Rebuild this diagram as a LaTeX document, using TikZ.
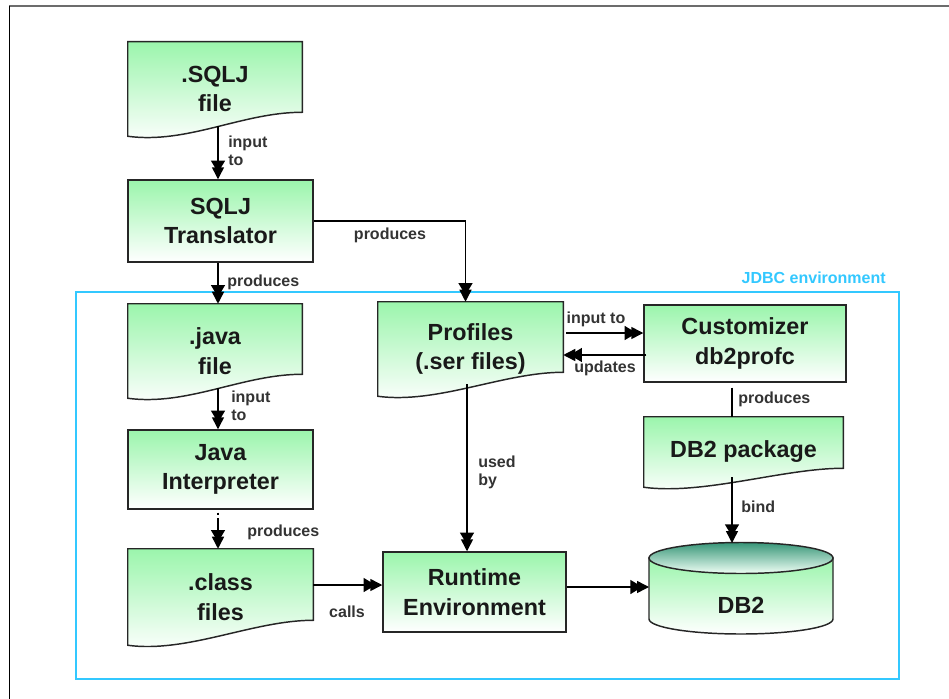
\documentclass[tikz,border=0pt]{standalone}
\usepackage{fontspec}
\setmainfont{Liberation Sans}
\usetikzlibrary{arrows.meta,calc,backgrounds}
\definecolor{boxgreen}{RGB}{155,245,172}
\definecolor{jdbc}{RGB}{51,200,255}
\definecolor{dbtop}{RGB}{55,150,120}
\definecolor{dbbot}{RGB}{240,255,245}
\tikzset{
  x=0.75pt, y=-0.75pt,
  wh/.style 2 args={minimum width=#1*0.75pt, minimum height=#2*0.75pt},
  boxtext/.style={font=\bfseries\fontsize{17.5}{22}\selectfont, text=black!90, align=center, inner sep=0pt},
  procbox/.style={boxtext, draw=black!85, line width=1.1pt, top color=boxgreen, bottom color=white},
  docbox/.style={boxtext},
  docshape/.style={draw=black!85, line width=1.1pt, top color=boxgreen, bottom color=white},
  lbl/.style={font=\bfseries\fontsize{12}{13.5}\selectfont, text=black!80, inner sep=0pt, align=left},
  arr/.style={line width=1.1pt, -{Triangle[length=9pt,width=10.5pt,sep=-4pt]Triangle[length=9pt,width=9pt]}},
  plainline/.style={line width=1.1pt},
}
\newcommand\docoutline[2]{%
  \path[docshape] (#1.north west) -- (#1.north east) -- ($(#1.south east)+(0,-#2)$)
    .. controls ($(#1.south east)+(-60,-#2)$) and ($(#1.south west)+(60,8)$) .. (#1.south west) -- cycle;}
\begin{document}
\begin{tikzpicture}
\useasboundingbox (0,0) rectangle (949,699);
% outer frame
\draw[gray!85!black, line width=1.5pt] (9,6) -- (949,6);
\draw[black, line width=0.8pt] (9.5,6) -- (9.5,699);
% JDBC environment
\draw[jdbc, line width=1.6pt] (76,292) rectangle (899,679);
\node[lbl, text=jdbc, anchor=east] (jdbclbl) at (886,278) {JDBC environment};

% nodes
\node[docbox, wh={174}{94}] (sqlj) at (215,89) {.SQLJ\\file};
\node[procbox, wh={185}{82}] (translator) at (220.5,221) {SQLJ\\Translator};
\node[docbox, wh={174}{94}] (java) at (215,351) {.java\\file};
\node[procbox, wh={185}{79}] (interp) at (220.5,469.5) {Java\\Interpreter};
\node[docbox, wh={185}{96}] (cls) at (220.5,597) {.class\\files};
\node[docbox, wh={185}{94}] (profiles) at (470.5,349) {Profiles\\(.ser files)};
\node[procbox, wh={202}{77}] (cust) at (745,343.5) {Customizer\\db2profc};
\node[docbox, wh={199}{70}] (pkg) at (743.5,452) {DB2 package};
\node[procbox, wh={183}{80}] (runtime) at (474.5,592) {Runtime\\Environment};
\node[boxtext] (db2) at (741,605) {DB2};
\coordinate (db2top) at (732,543);
\coordinate (db2left) at (649,587);

\begin{scope}[on background layer]
\docoutline{sqlj}{24}
\docoutline{java}{24}
\docoutline{cls}{25}
\docoutline{profiles}{24}
\docoutline{pkg}{19}
% cylinder
\path[docshape] (649,558) -- (649,619) arc[start angle=180,end angle=0,x radius=92,y radius=15] -- (833,558) -- cycle;
\path[draw=black!85, line width=1.1pt, top color=dbtop, bottom color=dbbot] (741,558) ellipse[x radius=92, y radius=15.5];
\end{scope}

% connectors
\draw[arr] ($(sqlj.south)+(3,-10)$) -- ($(translator.north)+(-2.5,0)$);
\node[lbl, anchor=west] (l1) at (228,151) {input\\to};
\draw[arr] ($(translator.south)+(-2.5,0)$) -- ($(java.north)+(3,0)$);
\node[lbl, anchor=west] (l2) at (227,282) {produces};
\draw[arr] (translator.east) -| ($(profiles.north)+(-5,0)$);
\node[lbl] (l3) at (390,235) {produces};
\draw[arr] ($(java.south)+(3,-10)$) -- ($(interp.north)+(-2.5,0)$);
\node[lbl, anchor=west] (l4) at (231,406) {input\\to};
\draw[arr, dash pattern=on 1.5pt off 2.5pt on 100pt off 1pt] ($(interp.south)+(-2.5,3)$) -- ($(cls.north)+(-2.5,0)$);
\node[lbl, anchor=west] (l5) at (247,532) {produces};
\draw[arr] ($(cls.east)+(0,-12)$) -- ($(runtime.west)+(0,-7)$);
\node[lbl] (l6) at (347,612) {calls};
\draw[arr] ($(profiles.south)+(-3.5,-12)$) -- ($(runtime.north)+(-7.5,0)$);
\node[lbl, anchor=west] (l7) at (478,472) {used\\by};
\draw[arr] ($(profiles.east)+(3,-16)$) -- ($(cust.west)+(0,-10.5)$);
\node[lbl] (l8) at (596,319) {input to};
\draw[arr] ($(cust.west)+(3,11.5)$) -- ($(profiles.east)+(0,6)$);
\node[lbl] (l9) at (605,368) {updates};
\draw[plainline] ($(cust.south)+(-13,5)$) -- ($(pkg.north)+(-11.5,0)$);
\node[lbl, anchor=west] (l10) at (738,399) {produces};
\draw[arr] ($(pkg.south)+(-11.5,-10)$) -- (db2top);
\node[lbl, anchor=west] (l11) at (741,507) {bind};
\draw[arr] ($(runtime.east)+(0,-5)$) -- (db2left);
\end{tikzpicture}
\end{document}
